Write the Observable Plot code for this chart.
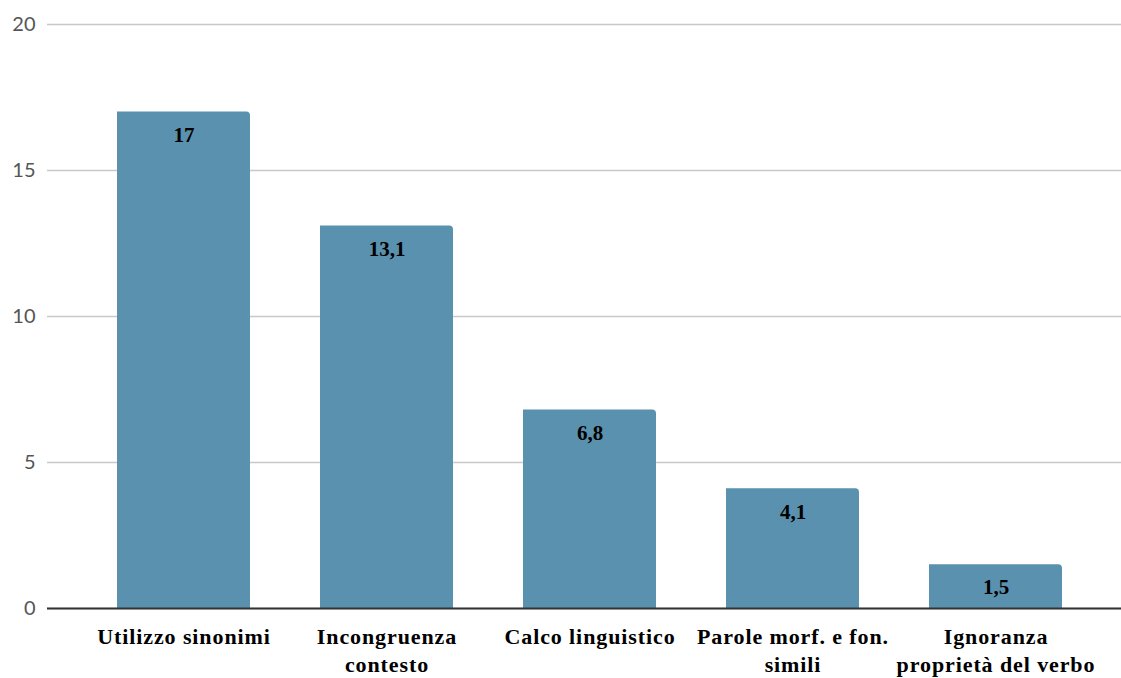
<!DOCTYPE html>
<html>
<head>
<meta charset="utf-8">
<script src="https://cdn.jsdelivr.net/npm/d3@7"></script>
<script src="https://cdn.jsdelivr.net/npm/@observablehq/plot@0.6"></script>
<style>
  html, body { margin: 0; padding: 0; background: #fff; }
  #chart svg { display: block; }
  g[aria-label="x-axis tick label"] { letter-spacing: 0.9px; }
</style>
</head>
<body>
<div id="chart"></div>
<script>
// Error categories (multi-line labels use "\n") and their percentages
const categories = [
  "Utilizzo sinonimi",
  "Incongruenza\ncontesto",
  "Calco linguistico",
  "Parole morf. e fon.\nsimili",
  "Ignoranza\nproprietà del verbo"
];
const values = [17, 13.1, 6.8, 4.1, 1.5];
const yTicks = [0, 5, 10, 15, 20];

const data = categories.map((c, i) => ({category: c, value: values[i]}));
const fmt = v => String(v).replace(".", ",");

const serif = "'Liberation Serif', 'DejaVu Serif', serif";
const barColor = "#5a91ae";

const chart = Plot.plot({
  width: 1121,
  height: 678,
  marginLeft: 47,
  marginRight: 0,
  marginTop: 24,
  marginBottom: 70,
  style: {background: "#fff", overflow: "visible"},
  x: {
    domain: categories,
    paddingInner: 0.346,
    paddingOuter: 0.173,
    insetLeft: 33.75,
    insetRight: 22.75,
    label: null
  },
  y: {domain: [0, 20], label: null},
  marks: [
    Plot.gridY(yTicks, {stroke: "#c8c8c8", strokeOpacity: 1, strokeWidth: 1.5}),
    Plot.barY(data, {x: "category", y: "value", fill: barColor, ry1: 4, rx1: 0}),
    Plot.ruleY([0], {stroke: "#333", strokeWidth: 2}),
    Plot.text(data, {
      x: "category", y: "value", text: d => fmt(d.value),
      dy: 23, fontSize: 21, fontWeight: "bold", fontFamily: serif, fill: "#000"
    }),
    Plot.axisY({
      ticks: yTicks, tickSize: 0, tickPadding: 12, fontSize: 20,
      fontFamily: "Lato", fill: "#555", label: null
    }),
    Plot.axisX({
      tickSize: 0, tickPadding: 15, fontSize: 22, fontWeight: "bold",
      fontFamily: serif, fill: "#000", lineHeight: 1.3, label: null
    })
  ]
});

document.getElementById("chart").appendChild(chart);
</script>
</body>
</html>
